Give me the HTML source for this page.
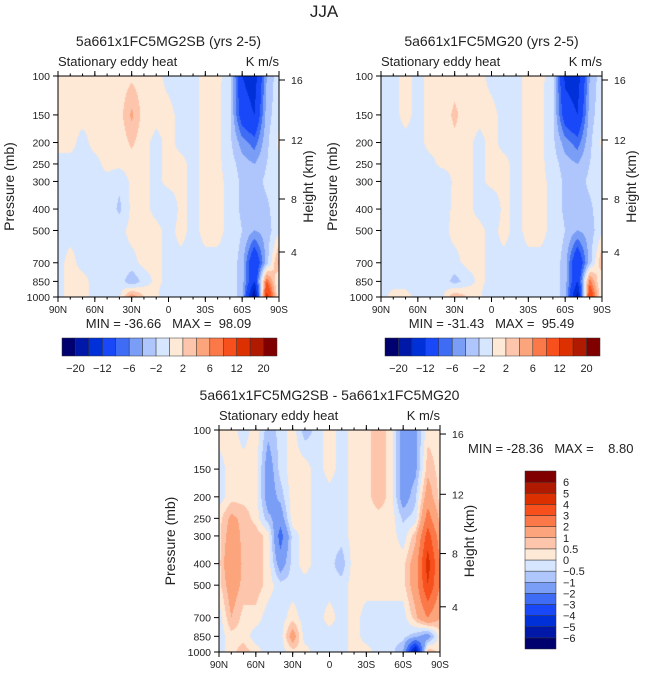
<!DOCTYPE html>
<html><head><meta charset="utf-8"><style>
body{margin:0;background:#fff;}
#wrap{position:relative;width:648px;height:676px;overflow:hidden;font-family:"Liberation Sans",sans-serif;}
canvas{position:absolute;}
svg{position:absolute;left:0;top:0;}
text{font-family:"Liberation Sans",sans-serif;fill:#222;white-space:pre;}
</style></head><body>
<div id="wrap">
<canvas id="cA" width="221" height="221" style="left:58px;top:76px"></canvas>
<canvas id="cB" width="221" height="221" style="left:381px;top:76px"></canvas>
<canvas id="cC" width="221" height="222" style="left:219px;top:430px"></canvas>
<svg id="svg" width="648" height="676"></svg>
</div>
<script>
const lats=["90N","80N","70N","60N","50N","40N","30N","20N","10N","0","10S","20S","30S","40S","50S","60S","70S","80S","90S"];
const pLevels=[100,150,200,250,300,400,500,700,850,1000];
const latTicks=["90N","60N","30N","0","30S","60S","90S"];
const pTicks=[100,150,200,250,300,400,500,700,850,1000];
const hTicks=[16,12,8,4];
const levAB=[-20,-16,-12,-8,-6,-4,-2,0,2,4,6,8,12,16,20];
const labAB=["-20","-12","-6","-2","2","6","12","20"];
const levC=[-6,-5,-4,-3,-2,-1,-0.5,0,0.5,1,2,3,4,5,6];
const labC=["-6","-5","-4","-3","-2","-1","-0.5","0","0.5","1","2","3","4","5","6"];
const colors=["#00006e","#0018a8","#0030d8","#1848f8","#3e6cf4","#7a9ef6","#afc6fd","#d6e6fe","#fde9d6","#fdc6ac","#fca47c","#fb7848","#f8501c","#dc3000","#b01a00","#800000"];
const gridA=[
[0.5,0.5,0.5,0.5,0.5,0.8,1.5,0.8,0.5,-0.5,-0.8,-0.5,0.5,0.5,-1,-12,-14,-4,-0.5],
[0.5,0.5,0.5,0.5,0.5,1,4.5,1,0.5,0.5,-0.5,-0.5,0.5,0.5,-1.5,-10,-12,-3,-0.5],
[0.5,0.5,-0.5,0.5,0.5,0.5,2.5,0.5,-0.5,0.5,-0.5,-0.5,0.5,0.5,-1.5,-5,-7,-2.5,0.5],
[-0.5,-0.5,-0.5,-0.5,0.5,0.5,0.8,0.5,-0.5,0.5,0.5,-0.5,0.5,0.5,-1,-3,-4,-2,-0.5],
[-0.5,-0.5,-0.5,-0.5,-0.5,-1.5,0.5,0.5,-0.5,0.5,0.5,-0.5,0.5,0.5,-0.5,-2.5,-3,-1.5,-0.5],
[-0.5,-0.5,-0.5,-0.5,-0.5,-2.5,0.5,0.5,-0.5,-1.5,0.5,-0.5,0.5,0.5,-0.5,-2.5,-3,-2.5,-0.5],
[-0.5,-0.5,-0.5,-0.5,-0.5,-0.5,0.5,0.5,0.5,-0.5,0.5,-0.5,0.5,0.5,-0.5,-2,-4,-3,-0.5],
[-0.5,0.5,-0.5,-0.5,-0.5,-0.5,-0.5,0.5,0.5,-0.5,-0.5,-0.5,-0.5,-0.5,-0.5,-3,-12,-3,5],
[-0.5,0.5,0.5,-0.5,-0.5,-0.5,-4,-1,0.5,-0.5,-0.5,-0.5,-0.5,-0.5,-0.5,-3,-12,8,-1],
[-0.5,0.5,0.5,-0.5,-2,-0.5,6,2,0.5,-2,-1,-0.5,-0.5,-0.5,-0.5,-3,-20,14,-0.5]];
const gridB=[
[-0.5,-0.5,0.5,-0.5,0.5,0.5,1,0.5,0.5,-0.5,-0.8,-0.5,0.5,0.5,-1,-13,-14,-4,-0.5],
[-0.5,-0.5,0.5,-0.5,0.5,0.8,2.5,0.8,0.5,0.5,-0.5,-0.5,0.5,0.5,-1.5,-10,-12,-3,-0.5],
[-0.5,-0.5,-0.5,-0.5,0.5,0.5,1.5,0.5,-0.5,0.5,-0.5,-0.5,0.5,0.5,-1.5,-5,-7,-2.5,0.5],
[-0.5,-0.5,-0.5,-0.5,-0.5,0.5,0.5,0.5,-0.5,0.5,0.5,-0.5,0.5,0.5,-1,-3,-4,-2,-0.5],
[-0.5,-0.5,-0.5,-0.5,-0.5,-1.5,0.5,0.5,-0.5,0.5,0.5,-0.5,0.5,0.5,-0.5,-2.5,-3,-1.5,-0.5],
[-0.5,-0.5,-0.5,-0.5,-0.5,-1,0.5,0.5,-0.5,-1.5,0.5,-0.5,0.5,0.5,-0.5,-2.5,-3,-2.5,-0.5],
[-0.5,-0.5,-0.5,-0.5,-0.5,-0.5,0.5,0.5,0.5,-0.5,0.5,-0.5,0.5,0.5,-0.5,-2,-4,-3,-0.5],
[-0.5,-0.5,-0.5,-0.5,-0.5,-0.5,-0.5,0.5,0.5,-0.5,-0.5,-0.5,-0.5,-0.5,-0.5,-3,-12,-3,4],
[-0.5,-0.5,-0.5,-0.5,-0.5,-0.5,-3,-1,0.5,-0.5,-0.5,-0.5,-0.5,-0.5,-0.5,-3,-12,7,-1],
[-0.5,0.5,0.5,-0.5,-2,-0.5,4,2,0.5,-2,-1,-0.5,-0.5,-0.5,-0.5,-3,-18,12,-0.5]];
const gridC=[
[0.3,0.3,-0.3,0.3,-0.8,-0.3,0.3,-0.8,-0.3,0.3,-0.3,0.3,0.3,0.8,0.3,-1.5,-1.2,0.3,0.3],
[-0.3,0.3,0.3,0.3,-1.5,-0.3,0.3,0.3,-0.3,0.3,-0.3,0.3,0.3,0.8,0.3,-1.5,-1.2,0.8,0.3],
[-0.3,0.3,0.3,0.3,-1.5,-0.8,0.3,0.3,-0.3,-0.3,-0.3,0.3,0.3,0.8,0.3,-1.5,-0.6,1.5,0.3],
[0.3,1.2,0.8,0.3,-0.8,-1.5,0.3,0.3,-0.3,-0.3,-0.3,0.3,0.3,0.3,0.3,-0.6,-0.3,2.5,0.8],
[0.3,1.5,0.8,0.8,0.3,-2.5,-0.3,0.3,-0.3,-0.3,-0.3,0.3,0.3,0.3,0.3,-0.3,0.8,3.5,1.5],
[0.3,2,0.8,0.8,0.3,-1.5,-0.3,0.3,-0.3,-0.3,-0.8,0.3,0.3,0.3,0.3,0.3,1.5,4.5,2],
[0.3,1.5,0.8,0.8,0.3,-0.3,-0.3,-0.3,-0.3,-0.3,-0.3,0.3,0.3,0.3,0.3,0.3,1.5,4,2],
[-0.3,1,0.3,0.3,-0.3,-0.3,0.3,-0.3,-0.3,0.3,-0.3,0.3,-0.3,-0.3,-0.3,-0.3,0.8,2,1],
[-0.3,0.3,0.3,-0.3,-0.3,-0.3,1.5,-0.3,-0.3,-0.3,-0.3,0.3,-0.3,-0.3,-0.3,-0.3,-0.8,-1.5,0.3],
[-0.3,0.3,0.8,0.3,-0.3,-0.3,0.3,0.3,-0.3,-0.3,-0.3,0.3,0.3,-0.3,-0.3,-1,-6,1,0.3]];

const NS="http://www.w3.org/2000/svg";
const svg=document.getElementById('svg');
function el(tag,attrs,txt){const e=document.createElementNS(NS,tag);for(const k in attrs)e.setAttribute(k,attrs[k]);if(txt!==undefined)e.textContent=txt;svg.appendChild(e);return e;}
function latIdx(lab){return lats.indexOf(lab);}
function xScale(P,i){return P.x+P.w*i/(lats.length-1);}
function yScale(P,p){return P.y+P.h*Math.log10(p/100);}
function levelIndex(v,lev){let k=0;while(k<lev.length&&v>=lev[k])k++;return k;}
function hex(c){return [parseInt(c.slice(1,3),16),parseInt(c.slice(3,5),16),parseInt(c.slice(5,7),16)];}
const rgb=colors.map(hex);
function renderField(id,grid,lev){
  const cv=document.getElementById(id),ctx=cv.getContext('2d');
  const W=cv.width,H=cv.height,img=ctx.createImageData(W,H);
  const lp=pLevels.map(p=>Math.log10(p/100));
  for(let py=0;py<H;py++){
    const l=(py+0.5)/H;let r=0;while(r<lp.length-2&&l>lp[r+1])r++;
    const ty=Math.min(1,Math.max(0,(l-lp[r])/(lp[r+1]-lp[r])));
    for(let px=0;px<W;px++){
      const fx=(px+0.5)/W*(lats.length-1);let c=Math.min(lats.length-2,Math.floor(fx));const tx=fx-c;
      const v=(grid[r][c]*(1-tx)+grid[r][c+1]*tx)*(1-ty)+(grid[r+1][c]*(1-tx)+grid[r+1][c+1]*tx)*ty;
      const col=rgb[levelIndex(v,lev)];const o=(py*W+px)*4;
      img.data[o]=col[0];img.data[o+1]=col[1];img.data[o+2]=col[2];img.data[o+3]=255;
    }
  }
  ctx.putImageData(img,0,0);
}
renderField('cA',gridA,levAB);renderField('cB',gridB,levAB);renderField('cC',gridC,levC);

const hY={16:80,12:140,8:199,4:252};
function axes(P,name,title,minmax){
  let t=el('text',{x:P.x+P.w/2,y:P.y-30,'text-anchor':'middle','font-size':14},title);
  
  t=el('text',{x:P.x,y:P.y-10,'font-size':13},'Stationary eddy heat');
  
  t=el('text',{x:P.x+P.w,y:P.y-10,'font-size':13,'text-anchor':'end'},'K m/s');
  
  const f=el('rect',{x:P.x,y:P.y,width:P.w,height:P.h,fill:'none',stroke:'#000','stroke-width':1});
  
  latTicks.forEach(l=>{const x=xScale(P,latIdx(l));
    el('line',{x1:x,x2:x,y1:P.y+P.h,y2:P.y+P.h+5,stroke:'#000'});
    el('line',{x1:x,x2:x,y1:P.y,y2:P.y-5,stroke:'#000'});
    const tl=el('text',{x:x,y:P.y+P.h+16,'text-anchor':'middle','font-size':10},l);
    });
  for(let i=0;i<lats.length;i++){const x=xScale(P,i);el('line',{x1:x,x2:x,y1:P.y,y2:P.y-2.5,stroke:'#000'});el('line',{x1:x,x2:x,y1:P.y+P.h,y2:P.y+P.h+2.5,stroke:'#000'});}
  pTicks.forEach(p=>{const y=yScale(P,p);
    el('line',{x1:P.x-5,x2:P.x,y1:y,y2:y,stroke:'#000'});
    const tl=el('text',{x:P.x-8,y:y+4,'text-anchor':'end','font-size':10.5},p);
    });
  hTicks.forEach(h=>{const y=P.y+(hY[h]-76)*P.h/221;
    el('line',{x1:P.x+P.w,x2:P.x+P.w+6,y1:y,y2:y,stroke:'#000'});
    const tl=el('text',{x:P.x+P.w+12,y:y+4,'font-size':10.5},h);
    });
  const cy=P.y+P.h/2;
  t=el('text',{x:P.x-44,y:cy,'text-anchor':'middle','font-size':14,transform:`rotate(-90 ${P.x-44} ${cy})`},'Pressure (mb)');
  
  t=el('text',{x:P.x+P.w+34,y:cy,'text-anchor':'middle','font-size':14,transform:`rotate(-90 ${P.x+P.w+34} ${cy})`},'Height (km)');
  
  if(minmax){t=el('text',{x:P.x+P.w/2,y:P.y+P.h+31,'text-anchor':'middle','font-size':13},minmax);
    }
}
let t=el('text',{x:324,y:17,'text-anchor':'middle','font-size':17,fill:'#444'},'JJA');

axes({x:58,y:76,w:221,h:221},'panel-1','5a661x1FC5MG2SB (yrs 2-5)','MIN = -36.66   MAX =  98.09');
axes({x:381,y:76,w:221,h:221},'panel-2','5a661x1FC5MG20 (yrs 2-5)','MIN = -31.43   MAX =  95.49');
axes({x:219,y:430,w:221,h:222},'diff-panel','5a661x1FC5MG2SB - 5a661x1FC5MG20',null);
t=el('text',{x:468,y:453,'font-size':13},'MIN = -28.36   MAX =    8.80');


function hbar(x0,name){
  const bw=215/colors.length;
  colors.forEach((c,i)=>{const r=el('rect',{x:x0+i*bw,y:338,width:bw,height:18,fill:c,stroke:'#333','stroke-width':0.5});
    });
  labAB.forEach((l,k)=>{const i=levAB.indexOf(Number(l))+1;
    const tl=el('text',{x:x0+i*bw,y:372,'text-anchor':'middle','font-size':11},l.replace('-','\u2212'));
    });
}
hbar(62,'colorbar-1');hbar(385,'colorbar-2');
const bh=178/colors.length;
colors.forEach((c,i)=>{const r=el('rect',{x:525,y:471+(colors.length-1-i)*bh,width:31,height:bh,fill:c,stroke:'#333','stroke-width':0.5});
  });
labC.forEach((l,k)=>{const i=k+1;const y=471+(colors.length-i)*bh;
  const tl=el('text',{x:563,y:y+4,'font-size':11},l.replace('-','\u2212'));
  });
</script>
</body></html>
